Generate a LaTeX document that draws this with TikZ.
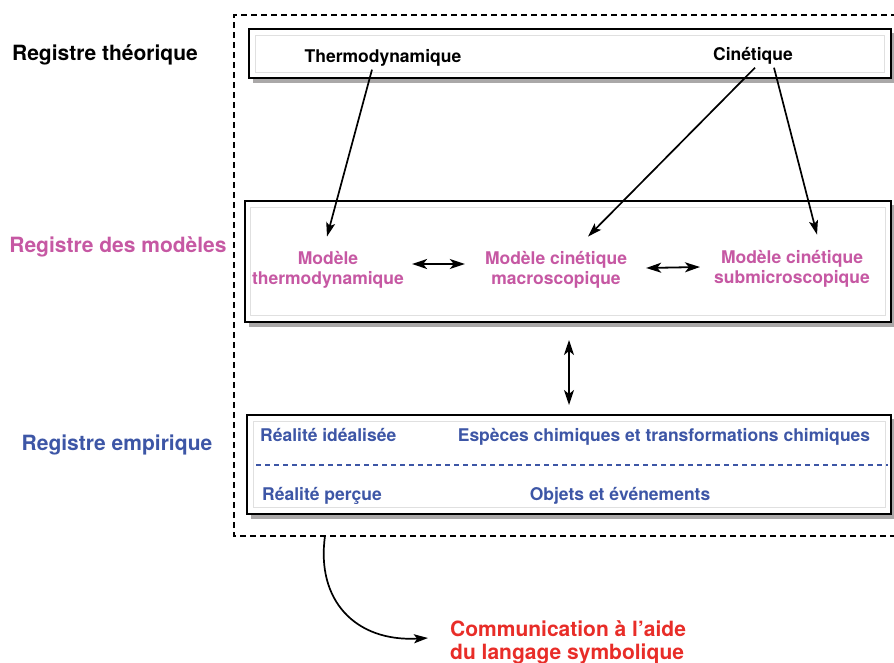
\documentclass[tikz,border=0pt]{standalone}
\usepackage{fontspec}
\setmainfont{TeX Gyre Heros}
\usetikzlibrary{arrows.meta}
\definecolor{pinkc}{RGB}{198,88,163}
\definecolor{bluec}{RGB}{61,86,166}
\definecolor{redc}{RGB}{232,45,40}
\definecolor{shadowc}{RGB}{170,168,168}
\begin{document}
\begin{tikzpicture}[x=1pt,y=-1pt,
  lab/.style={font=\fontsize{17.5}{19.5}\selectfont\bfseries, align=center, inner sep=0pt},
  reg/.style={font=\fontsize{21}{23}\selectfont\bfseries, inner sep=0pt, align=left},
  panel/.style={draw=black, line width=2pt, fill=white, inner sep=0pt, anchor=north west},
  bevel/.style={draw=black!12, line width=0.8pt},
  shade/.style={fill=shadowc},
  arr/.style={-{Stealth[length=14pt,width=9pt,inset=3pt]}, line width=1.7pt},
  darr/.style={{Stealth[length=15pt,width=10pt,inset=4pt]}-{Stealth[length=15pt,width=10pt,inset=4pt]}, line width=1.8pt},
  outer/.style={draw=black, line width=2pt, dash pattern=on 6pt off 4pt}
]
\useasboundingbox (0,0) rectangle (894,662);

% outer dashed frame (open on the right)
\draw[outer] (896,536) -- (234,536) -- (234,15) -- (896,15);

% top panel
\fill[shade] (253,33) rectangle (896,83);
\node[panel, minimum width=642pt, minimum height=49pt] (top) at (248,28) {};
\draw[bevel] (255,35) rectangle (884,72);

% middle panel
\fill[shade] (249,205) rectangle (896,327);
\node[panel, minimum width=646pt, minimum height=121pt] (mid) at (244,200) {};
\draw[bevel] (250,207) rectangle (885,315);

% bottom panel
\fill[shade] (251,419) rectangle (896,519);
\node[panel, minimum width=644pt, minimum height=99pt] (bot) at (246,414) {};
\draw[bevel] (253,421) rectangle (885,507);
\draw[bluec, line width=1.2pt, dash pattern=on 5pt off 4pt] (bot.west |- 0,465) ++(10,0) coordinate (dl) -- (888,465) coordinate (dr);

% register labels
\node[reg, text=black] (regT) at (105,55) {Registre théorique};
\node[reg, text=pinkc] (regM) at (118,247) {Registre des modèles};
\node[reg, text=bluec] (regE) at (117,445) {Registre empirique};

% theory
\node[lab] (thermo) at (383,58) {Thermodynamique};
\node[lab] (cin) at (753,56) {Cinétique};

% models
\node[lab, text=pinkc] (m1) at (328,270) {Modèle\\thermodynamique};
\node[lab, text=pinkc] (m2) at (556,270) {Modèle cinétique\\macroscopique};
\node[lab, text=pinkc] (m3) at (792,269) {Modèle cinétique\\submicroscopique};

% empirical
\node[lab, text=bluec, anchor=west] (ri) at (260,435) {Réalité idéalisée};
\node[lab, text=bluec] (esp) at (664,437) {Espèces chimiques et transformations chimiques};
\node[lab, text=bluec, anchor=west] (rp) at (262,496) {Réalité perçue};
\node[lab, text=bluec] (obj) at (620,496) {Objets et événements};

% communication
\node[reg, text=redc, anchor=west] (comm) at (450,642) {Communication à l’aide\\du langage symbolique};

% arrows from theory to models
\draw[arr] ([xshift=-11pt,yshift=-3pt]thermo.south) -- ([xshift=-1pt,yshift=15pt]m1.north);
\draw[arr] ([xshift=2pt,yshift=-3pt]cin.south) -- ([xshift=32pt,yshift=15pt]m2.north);
\draw[arr] ([xshift=21pt,yshift=-3pt]cin.south) -- ([xshift=25pt,yshift=16pt]m3.north);

% double arrows between models
\draw[darr] ([xshift=8pt,yshift=6pt]m1.east) -- ([xshift=-20pt,yshift=6pt]m2.west);
\draw[darr] ([xshift=19pt,yshift=2pt]m2.east) -- ([xshift=-14pt,yshift=2pt]m3.west);

% vertical double arrow
\coordinate (va) at (569,0);
\draw[darr, shorten <=17pt, shorten >=9pt] (va |- mid.south) -- (va |- bot.north);

% curved arrow to communication
\coordinate (cstart) at (325,536);
\draw[arr] (cstart) .. controls (316,600) and (355,642) .. ([xshift=-22pt,yshift=4pt]comm.west);
\end{tikzpicture}
\end{document}
